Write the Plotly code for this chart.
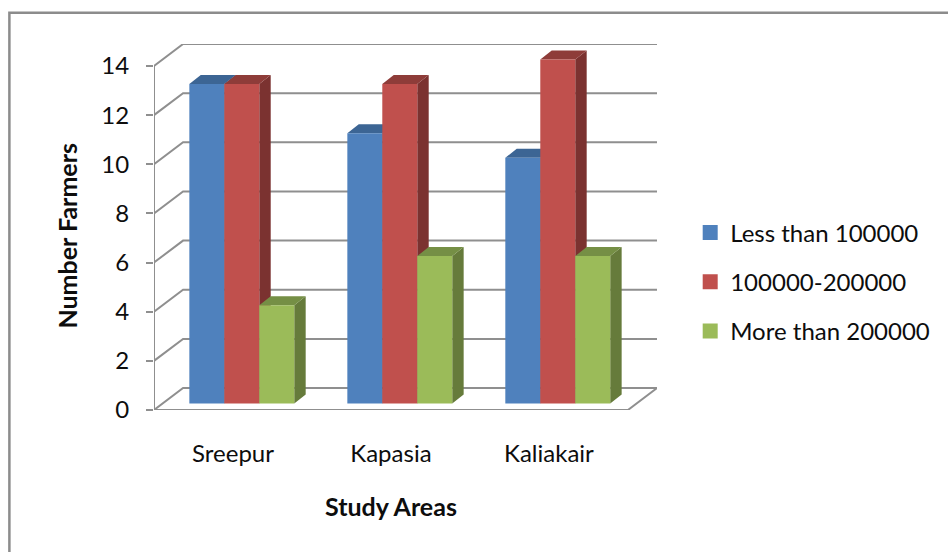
import plotly.graph_objects as go

# Survey counts per study area and income band
areas = ["Sreepur", "Kapasia", "Kaliakair"]
bands = ["Less than 100000", "100000-200000", "More than 200000"]
less_than_100k = [13, 11, 10]
from_100k_to_200k = [13, 13, 14]
more_than_200k = [4, 6, 6]
series_values = [less_than_100k, from_100k_to_200k, more_than_200k]
y_ticks = [0, 2, 4, 6, 8, 10, 12, 14]

front_colors = ["#4F81BD", "#C0504D", "#9BBB59"]
top_colors = ["#3C6594", "#8E3C39", "#758F45"]
side_colors = ["#345780", "#7B3230", "#667B3B"]
grid_color = "#8F8F8F"
font_family = "Lato, Carlito, sans-serif"
text_color = "#0D0D0D"

# Oblique projection: depth vectors are expressed in axis units
px_per_cat = 157.67
px_per_val = 24.63
wall_dx, wall_dy = 29 / px_per_cat, 22 / px_per_val
bar_dx, bar_dy = 11.4 / px_per_cat, 9 / px_per_val
inset_dx, inset_dy = 8.8 / px_per_cat, 6.5 / px_per_val
bar_w = 34.9 / px_per_cat
cluster_lead = (1 - 3 * bar_w) / 2

fig = go.Figure()

# Wall and floor rules
gx, gy = [], []
for v in y_ticks:
    gx += [0, wall_dx, 3 + wall_dx, None]
    gy += [v, v + wall_dy, v + wall_dy, None]
gx += [0, 3, 3 + wall_dx, None, 0, 0]
gy += [0, 0, wall_dy, None, 0, y_ticks[-1]]
fig.add_trace(go.Scatter(x=gx, y=gy, mode="lines", showlegend=False, hoverinfo="skip",
                         line=dict(color=grid_color, width=2), cliponaxis=False))


def faces(values, s):
    side_x, side_y, top_x, top_y, front_x, front_y = [], [], [], [], [], []
    for c, v in enumerate(values):
        x0 = c + cluster_lead + s * bar_w + inset_dx
        x1 = x0 + bar_w
        y0 = inset_dy
        y1 = y0 + v
        front_x += [x0, x1, x1, x0, x0, None]
        front_y += [y0, y0, y1, y1, y0, None]
        side_x += [x1, x1 + bar_dx, x1 + bar_dx, x1, x1, None]
        side_y += [y0, y0 + bar_dy, y1 + bar_dy, y1, y0, None]
        top_x += [x0, x1, x1 + bar_dx, x0 + bar_dx, x0, None]
        top_y += [y1, y1, y1 + bar_dy, y1 + bar_dy, y1, None]
    return (side_x, side_y), (top_x, top_y), (front_x, front_y)


# Painted back to front, series by series, so nearer bars hide farther ones
for s, values in enumerate(series_values):
    side, top, front = faces(values, s)
    for (xs, ys), color in ((side, side_colors[s]), (top, top_colors[s]), (front, front_colors[s])):
        fig.add_trace(go.Scatter(x=xs, y=ys, mode="lines", fill="toself", fillcolor=color,
                                 line=dict(width=0, color=color), showlegend=False,
                                 name=bands[s], hoverinfo="skip"))

# Legend keys
for s, band in enumerate(bands):
    fig.add_trace(go.Scatter(x=[None], y=[None], mode="markers", name=band, legendgroup=band,
                             marker=dict(symbol="square", size=15, color=front_colors[s])))

fig.update_layout(
    width=948, height=553,
    margin=dict(l=154, r=291, t=43.5, b=142.5, autoexpand=False),
    paper_bgcolor="white", plot_bgcolor="rgba(0,0,0,0)",
    font=dict(family=font_family, size=24, color=text_color),
    legend=dict(x=1.066, xanchor="left", y=0.35, yanchor="middle", tracegroupgap=15,
                font=dict(size=24), bgcolor="rgba(0,0,0,0)"),
    xaxis=dict(range=[0, 3 + wall_dx], tickmode="array", tickvals=[0.5, 1.5, 2.5], ticktext=areas,
               showgrid=False, zeroline=False, showline=False, ticks="", ticklabelstandoff=27),
    yaxis=dict(range=[0, y_ticks[-1] + wall_dy], tickmode="array", tickvals=y_ticks,
               showgrid=False, zeroline=False, showline=False, ticks="outside", ticklen=7,
               tickwidth=2, tickcolor=grid_color, ticklabelstandoff=12),
    annotations=[
        dict(text="<b>Study Areas</b>", xref="x", yref="paper", x=1.5, y=0, yshift=-95.5,
             xanchor="center", yanchor="middle", showarrow=False, font=dict(size=25)),
        dict(text="<b>Number Farmers</b>", textangle=-90, xref="paper", yref="y", x=0, y=7.1,
             xshift=-87, xanchor="center", yanchor="middle", showarrow=False, font=dict(size=25)),
    ],
    shapes=[
        dict(type="path", xref="paper", yref="paper", layer="below",
             path="M -0.2875 -0.3881 L -0.2875 1.0855 L 1.5785 1.0855",
             line=dict(color="#8C8C8C", width=2.5)),
    ],
)

fig.write_html("out.html")
